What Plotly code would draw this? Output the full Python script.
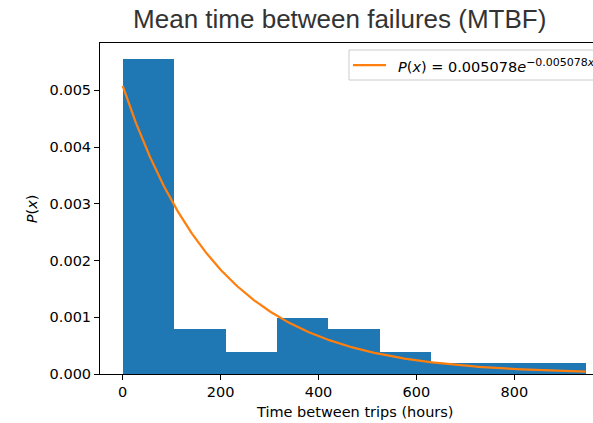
import numpy as np
import plotly.graph_objects as go

# Histogram data
bin_edges = [0, 105.1, 210.2, 315.3, 420.4, 525.5, 630.6, 735.7, 840.8, 945.9]
bin_counts = [28, 4, 2, 5, 4, 2, 1, 1, 1]

# Fitted exponential parameter shown in legend
lam = 0.005078

title_text = "Mean time between failures (MTBF)"
x_label = "Time between trips (hours)"
y_label = "<i>P</i>(<i>x</i>)"
legend_label = ("<i>P</i>(<i>x</i>) = 0.005078<i>e</i>"
                "<sup><span style='font-size:11px'>−0.005078<i>x</i></span></sup>")
x_ticks = [0, 200, 400, 600, 800]
y_ticks = [0.0, 0.001, 0.002, 0.003, 0.004, 0.005]

edges = np.array(bin_edges)
counts = np.array(bin_counts, dtype=float)
widths = np.diff(edges)
centers = (edges[:-1] + edges[1:]) / 2
density = counts / (counts.sum() * widths)

xs = np.linspace(edges[0], edges[-1], 400)
ys = lam * np.exp(-lam * xs)

FONT = "DejaVu Sans"
ORANGE = "#ff7f0e"

# plot-area geometry in pixels (used to place the cropped legend box)
L, R, T, B = 100, 593, 43, 374
px = lambda p: (p - L) / (R - L)
py = lambda p: (B - p) / (B - T)

fig = go.Figure()
fig.add_trace(go.Bar(
    x=centers, y=density, width=widths,
    marker=dict(color="#1f77b4", line=dict(width=0)),
    showlegend=False, hoverinfo="skip",
))
fig.add_trace(go.Scatter(
    x=xs, y=ys, mode="lines",
    line=dict(color=ORANGE, width=2.25),
    name=legend_label, showlegend=False,
))

fig.update_layout(
    width=593, height=423,
    margin=dict(l=L, r=593 - R, t=T, b=423 - B),
    paper_bgcolor="white", plot_bgcolor="white",
    bargap=0,
    font=dict(family=FONT, size=14.5, color="black"),
    title=dict(text=title_text, xref="container", yref="container",
               x=339.7 / 593, y=1 - 19 / 423, xanchor="center", yanchor="middle",
               font=dict(family="Liberation Sans, Arial", size=26, color="#333333")),
    xaxis=dict(range=[-46.4, 960.8], tickvals=x_ticks, ticks="outside", ticklen=5,
               tickwidth=1, tickcolor="black", showline=True, linecolor="black",
               linewidth=1, mirror=True, showgrid=False, zeroline=False),
    yaxis=dict(range=[0, 0.005833], tickvals=y_ticks, tickformat=".3f", ticks="outside",
               ticklen=5, tickwidth=1, tickcolor="black", showline=True, linecolor="black",
               linewidth=1, mirror=True, showgrid=False, zeroline=False),
    shapes=[
        dict(type="rect", xref="paper", yref="paper", x0=px(349), x1=px(660),
             y0=py(80), y1=py(50), fillcolor="rgba(255,255,255,0.8)",
             line=dict(color="#cccccc", width=1), layer="above"),
        dict(type="line", xref="paper", yref="paper", x0=px(353), x1=px(386),
             y0=py(65), y1=py(65), line=dict(color=ORANGE, width=2.25), layer="above"),
    ],
    annotations=[
        dict(text=legend_label, xref="paper", yref="paper", x=px(396), y=py(65),
             xanchor="left", yanchor="middle", showarrow=False,
             font=dict(family=FONT, size=14.5, color="black")),
        dict(text=x_label, xref="paper", yref="paper", x=px(354.5),
             y=py(412), xanchor="center", yanchor="middle", showarrow=False,
             font=dict(family=FONT, size=14.5, color="black")),
        dict(text=y_label, xref="paper", yref="paper", x=px(31.7), y=0.5,
             xanchor="center", yanchor="middle", textangle=-90, showarrow=False,
             font=dict(family=FONT, size=14.5, color="black")),
    ],
)

fig.write_html("out.html", config={"displayModeBar": False},
               post_script="document.body.style.margin='0';document.body.style.overflow='hidden';")
